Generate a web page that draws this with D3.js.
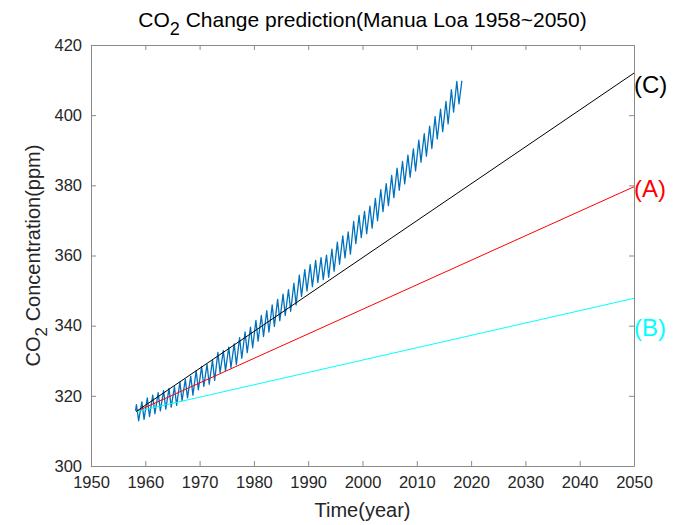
<!DOCTYPE html>
<html>
<head>
<meta charset="utf-8">
<script src="https://cdn.jsdelivr.net/npm/d3@7/dist/d3.min.js"></script>
<style>
  body { margin: 0; background: #fff; }
  text { font-family: "Liberation Sans", Arial, sans-serif; }
</style>
</head>
<body>
<svg id="chart" width="700" height="525"></svg>
<script>
// Mauna Loa monthly record, reduced to seasonal turning points
var years = [1958, 1959, 1960, 1961, 1962, 1963, 1964, 1965, 1966, 1967,
  1968, 1969, 1970, 1971, 1972, 1973, 1974, 1975, 1976, 1977,
  1978, 1979, 1980, 1981, 1982, 1983, 1984, 1985, 1986, 1987,
  1988, 1989, 1990, 1991, 1992, 1993, 1994, 1995, 1996, 1997,
  1998, 1999, 2000, 2001, 2002, 2003, 2004, 2005, 2006, 2007,
  2008, 2009, 2010, 2011, 2012, 2013, 2014, 2015, 2016, 2017];
// May maximum of each year (ppm)
var peaks = [317.5, 318.3, 319.4, 320.2, 320.9, 321.5, 322.1, 322.6, 323.9, 324.7,
  325.6, 327.2, 328.4, 329.0, 330.2, 332.4, 332.9, 333.9, 334.8, 336.6,
  338.2, 339.6, 341.5, 342.9, 344.3, 345.9, 347.5, 349.0, 350.3, 352.1,
  354.4, 356.0, 357.4, 358.6, 359.4, 360.1, 361.8, 363.8, 365.6, 366.7,
  369.7, 371.4, 372.6, 374.1, 376.3, 378.8, 380.5, 382.8, 384.9, 386.8,
  388.6, 390.4, 392.9, 394.7, 396.9, 399.6, 401.7, 403.9, 407.3, 409.6];
// October minimum of each year (ppm)
var troughs = [312.9, 313.3, 314.1, 314.9, 315.7, 316.2, 316.8, 317.3, 318.6, 319.4,
  320.2, 321.7, 322.7, 323.3, 324.4, 326.6, 327.1, 328.0, 328.9, 330.7,
  332.3, 333.7, 335.6, 336.9, 338.2, 339.8, 341.4, 342.9, 344.1, 345.9,
  348.3, 349.9, 351.1, 352.3, 353.1, 353.8, 355.5, 357.5, 359.3, 360.4,
  363.4, 365.1, 366.2, 367.8, 369.9, 372.5, 374.2, 376.5, 378.6, 380.4,
  382.3, 384.1, 386.6, 388.3, 390.5, 393.2, 395.3, 397.5, 400.9, 403.2];
var firstPoint = [1958.2, 315.7];
var lastPoint = [2018.3, 409.8];

// prediction lines: start and end (1958 -> 2050)
var scenarios = ["(A)", "(B)", "(C)"];
var scenarioStart = [315.5, 315.5, 315.5];
var scenarioEnd = [379.6, 347.8, 412.0];
var scenarioLabelAt = [376.7, 337.1, 406.3];   // where the text sits (baseline, ppm)
var scenarioColors = ["#ff0000", "#00ffff", "#000000"];
var predYears = [1958.3, 2050];

var xTicks = [1950, 1960, 1970, 1980, 1990, 2000, 2010, 2020, 2030, 2040, 2050];
var yTicks = [300, 320, 340, 360, 380, 400, 420];

var svg = d3.select("#chart");
var plotLeft = 91, plotRight = 634, plotTop = 45, plotBottom = 466;

var x = d3.scaleLinear().domain([1950, 2050]).range([plotLeft, plotRight]);
var y = d3.scaleLinear().domain([300, 420]).range([plotBottom, plotTop]);

// build the zigzag series
var series = [firstPoint];
for (var i = 0; i < years.length; i++) {
  series.push([years[i] + 0.37, peaks[i]]);
  series.push([years[i] + 0.77, troughs[i]]);
}
series.push(lastPoint);

var line = d3.line().x(function(d) { return x(d[0]); }).y(function(d) { return y(d[1]); });

svg.append("path")
  .datum(series)
  .attr("d", line)
  .attr("fill", "none")
  .attr("stroke", "#0072bd")
  .attr("stroke-width", 1.3)
  .attr("stroke-linejoin", "round");

for (var k = 0; k < scenarios.length; k++) {
  var pts = [[predYears[0], scenarioStart[k]], [predYears[1], scenarioEnd[k]]];
  svg.append("path")
    .datum(pts)
    .attr("d", line)
    .attr("fill", "none")
    .attr("stroke", scenarioColors[k])
    .attr("stroke-width", 1);
  svg.append("text")
    .attr("x", x(2050))
    .attr("y", y(scenarioLabelAt[k]))
    .attr("font-size", 24)
    .attr("fill", scenarioColors[k])
    .text(scenarios[k]);
}

// axes (MATLAB box style, inward ticks on all sides)
var axisColor = "#8a8a8a";
function styleAxis(g) {
  g.select(".domain").attr("stroke", axisColor);
  g.selectAll(".tick line").attr("stroke", axisColor);
  g.selectAll(".tick text").attr("fill", "#262626").attr("font-size", 16.5)
    .attr("font-family", "'Liberation Sans', Arial, sans-serif");
}

svg.append("g").attr("transform", "translate(0," + plotBottom + ")")
  .call(d3.axisBottom(x).tickValues(xTicks).tickFormat(d3.format("d")).tickSizeInner(-5).tickSizeOuter(0).tickPadding(10))
  .call(styleAxis);
svg.append("g").attr("transform", "translate(0," + plotTop + ")")
  .call(d3.axisTop(x).tickValues(xTicks).tickFormat("").tickSizeInner(-5).tickSizeOuter(0))
  .call(styleAxis);
svg.append("g").attr("transform", "translate(" + plotLeft + ",0)")
  .call(d3.axisLeft(y).tickValues(yTicks).tickFormat(d3.format("d")).tickSizeInner(-5).tickSizeOuter(0).tickPadding(9))
  .call(styleAxis);
svg.append("g").attr("transform", "translate(" + plotRight + ",0)")
  .call(d3.axisRight(y).tickValues(yTicks).tickFormat("").tickSizeInner(-5).tickSizeOuter(0))
  .call(styleAxis);

// title
var title = svg.append("text")
  .attr("x", (plotLeft + plotRight) / 2)
  .attr("y", 27)
  .attr("text-anchor", "middle")
  .attr("font-size", 21)
  .attr("fill", "#000");
title.append("tspan").text("CO");
title.append("tspan").attr("font-size", 18).attr("dy", 8).text("2");
title.append("tspan").attr("dy", -8).text(" Change prediction(Manua Loa 1958~2050)");

// x label
svg.append("text")
  .attr("x", (plotLeft + plotRight) / 2)
  .attr("y", 517)
  .attr("text-anchor", "middle")
  .attr("font-size", 20)
  .attr("fill", "#262626")
  .text("Time(year)");

// y label
var ylab = svg.append("text")
  .attr("transform", "translate(40," + ((plotTop + plotBottom) / 2) + ") rotate(-90)")
  .attr("text-anchor", "middle")
  .attr("font-size", 20)
  .attr("fill", "#262626");
ylab.append("tspan").text("CO");
ylab.append("tspan").attr("font-size", 17).attr("dy", 7).text("2");
ylab.append("tspan").attr("dy", -7).text(" Concentration(ppm)");
</script>
</body>
</html>
